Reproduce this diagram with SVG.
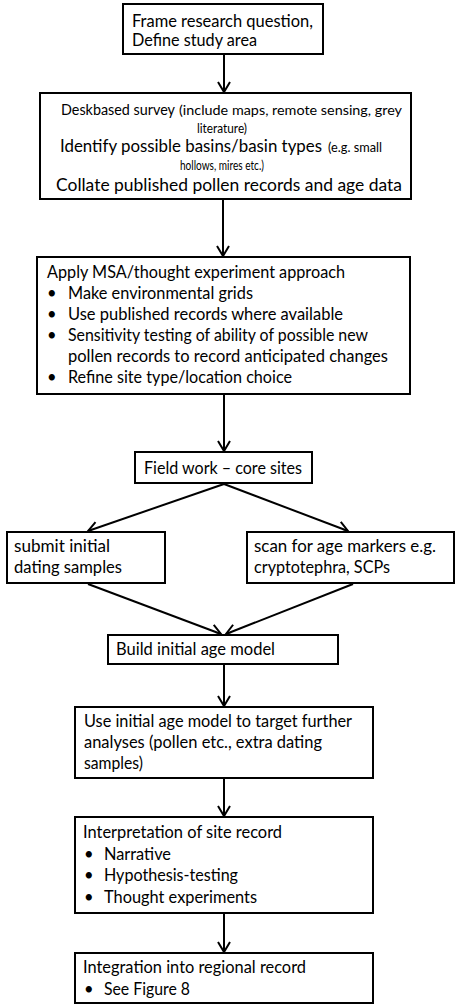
<svg xmlns="http://www.w3.org/2000/svg" width="457" height="1007" viewBox="0 0 457 1007">
<style>
.box{fill:#fff;stroke:#000;stroke-width:2}
text{font-family:Lato,"Open Sans","Liberation Sans",sans-serif;font-size:16.5px;fill:#000}
.s{font-size:12.5px}
.c{fill:none;stroke:#000;stroke-width:2}
</style>
<defs>
<marker id="ah" markerUnits="userSpaceOnUse" markerWidth="16" markerHeight="16" viewBox="-12 -8 14 16" refX="0" refY="0" orient="auto">
<path d="M-10,-6 L0,0 L-10,6" fill="none" stroke="#000" stroke-width="2"/>
</marker>
</defs>
<g id="connectors">
<line class="c" x1="224" y1="54" x2="224" y2="92" marker-end="url(#ah)"/>
<line class="c" x1="223" y1="199" x2="223" y2="256" marker-end="url(#ah)"/>
<line class="c" x1="224" y1="394" x2="224" y2="451" marker-end="url(#ah)"/>
<line class="c" x1="224" y1="484" x2="88" y2="531" marker-end="url(#ah)"/>
<line class="c" x1="224" y1="484" x2="348" y2="531" marker-end="url(#ah)"/>
<line class="c" x1="88" y1="584" x2="221" y2="634" marker-end="url(#ah)"/>
<line class="c" x1="353" y1="584" x2="226" y2="634" marker-end="url(#ah)"/>
<line class="c" x1="224" y1="664" x2="224" y2="706" marker-end="url(#ah)"/>
<line class="c" x1="224" y1="778" x2="224" y2="816" marker-end="url(#ah)"/>
<line class="c" x1="224" y1="913" x2="224" y2="952" marker-end="url(#ah)"/>
</g>
<g id="n1">
<rect class="box" x="123" y="4" width="200" height="50"/>
<text x="132" y="27" textLength="181" lengthAdjust="spacingAndGlyphs">Frame research question,</text>
<text x="132" y="46" textLength="125" lengthAdjust="spacingAndGlyphs">Define study area</text>
</g>
<g id="n2">
<rect class="box" x="40" y="93" width="371" height="106"/>
<text x="61" y="115" style="font-size:15.5px" textLength="114" lengthAdjust="spacingAndGlyphs">Deskbased survey</text>
<text class="s" x="179" y="115" style="font-size:13px" textLength="223" lengthAdjust="spacingAndGlyphs">(include maps, remote sensing, grey</text>
<text class="s" x="197" y="133" textLength="50" lengthAdjust="spacingAndGlyphs">literature)</text>
<text x="60" y="152" textLength="262" lengthAdjust="spacingAndGlyphs">Identify possible basins/basin types</text>
<text class="s" x="328" y="152" textLength="54" lengthAdjust="spacingAndGlyphs">(e.g. small</text>
<text class="s" x="180" y="170" textLength="84" lengthAdjust="spacingAndGlyphs">hollows, mires etc.)</text>
<text x="56" y="191" style="font-size:17.5px" textLength="346" lengthAdjust="spacingAndGlyphs">Collate published pollen records and age data</text>
</g>
<g id="n3">
<rect class="box" x="37" y="257" width="373" height="137"/>
<text x="47" y="278" textLength="298" lengthAdjust="spacingAndGlyphs">Apply MSA/thought experiment approach</text>
<text x="47" y="299">•</text>
<text x="68" y="299" textLength="185" lengthAdjust="spacingAndGlyphs">Make environmental grids</text>
<text x="47" y="320">•</text>
<text x="68" y="320" textLength="275" lengthAdjust="spacingAndGlyphs">Use published records where available</text>
<text x="47" y="341">•</text>
<text x="68" y="341" textLength="300" lengthAdjust="spacingAndGlyphs">Sensitivity testing of ability of possible new</text>
<text x="68" y="362" textLength="320" lengthAdjust="spacingAndGlyphs">pollen records to record anticipated changes</text>
<text x="47" y="383">•</text>
<text x="68" y="383" textLength="224" lengthAdjust="spacingAndGlyphs">Refine site type/location choice</text>
</g>
<g id="n4">
<rect class="box" x="135" y="452" width="177" height="31"/>
<text x="144" y="474" textLength="158" lengthAdjust="spacingAndGlyphs">Field work – core sites</text>
</g>
<g id="n5">
<rect class="box" x="7" y="532" width="158" height="51"/>
<text x="14" y="552" textLength="96" lengthAdjust="spacingAndGlyphs">submit initial</text>
<text x="14" y="573" textLength="108" lengthAdjust="spacingAndGlyphs">dating samples</text>
</g>
<g id="n6">
<rect class="box" x="247" y="532" width="207" height="51"/>
<text x="254" y="552" textLength="182" lengthAdjust="spacingAndGlyphs">scan for age markers e.g.</text>
<text x="254" y="573" textLength="136" lengthAdjust="spacingAndGlyphs">cryptotephra, SCPs</text>
</g>
<g id="n7">
<rect class="box" x="108" y="635" width="230" height="29"/>
<text x="116" y="655" textLength="159" lengthAdjust="spacingAndGlyphs">Build initial age model</text>
</g>
<g id="n8">
<rect class="box" x="75" y="707" width="298" height="71"/>
<text x="84" y="727" textLength="268" lengthAdjust="spacingAndGlyphs">Use initial age model to target further</text>
<text x="84" y="748" textLength="238" lengthAdjust="spacingAndGlyphs">analyses (pollen etc., extra dating</text>
<text x="84" y="769" textLength="59" lengthAdjust="spacingAndGlyphs">samples)</text>
</g>
<g id="n9">
<rect class="box" x="75" y="817" width="298" height="96"/>
<text x="83" y="838" textLength="199" lengthAdjust="spacingAndGlyphs">Interpretation of site record</text>
<text x="84" y="860">•</text>
<text x="104" y="860" textLength="67" lengthAdjust="spacingAndGlyphs">Narrative</text>
<text x="84" y="881">•</text>
<text x="104" y="881" textLength="134" lengthAdjust="spacingAndGlyphs">Hypothesis-testing</text>
<text x="84" y="903">•</text>
<text x="104" y="903" textLength="153" lengthAdjust="spacingAndGlyphs">Thought experiments</text>
</g>
<g id="n10">
<rect class="box" x="75" y="953" width="298" height="50"/>
<text x="83" y="973" textLength="223" lengthAdjust="spacingAndGlyphs">Integration into regional record</text>
<text x="84" y="995">•</text>
<text x="104" y="995" textLength="86" lengthAdjust="spacingAndGlyphs">See Figure 8</text>
</g>
</svg>
